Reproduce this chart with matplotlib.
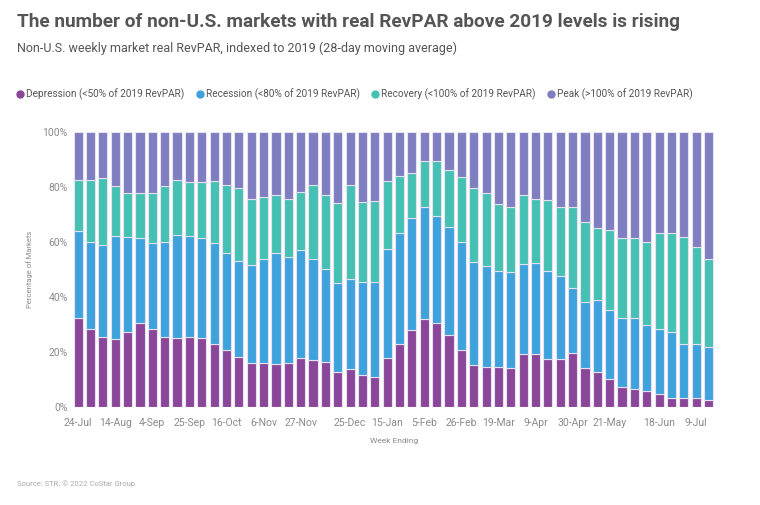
import numpy as np
import matplotlib
matplotlib.use("Agg")
import matplotlib.pyplot as plt
from matplotlib.lines import Line2D

# weekly data, 24-Jul-2021 .. 16-Jul-2022 (52 weeks), shares in %
depression = [32.4, 28.2, 25.5, 24.9, 27.3, 30.5, 28.2, 25.5, 25.1, 25.5,
              25.1, 22.9, 20.6, 18.3, 15.9, 15.9, 15.7, 16.1, 17.9, 17.1,
              16.4, 12.9, 13.8, 11.8, 10.9, 18.0, 22.8, 28.0, 31.9, 30.6,
              26.3, 20.6, 15.3, 14.7, 14.7, 14.1, 19.1, 19.3, 17.6, 17.6,
              19.7, 14.2, 12.6, 10.3, 7.2, 6.6, 5.7, 4.7, 3.4, 3.4,
              3.4, 2.5]
# cumulative top of recession band
recession_top = [64.0, 60.1, 59.0, 62.3, 61.7, 61.3, 59.6, 60.0, 62.5, 62.3,
                 61.4, 59.6, 56.1, 53.2, 51.7, 53.8, 56.1, 54.7, 57.2, 53.8,
                 50.1, 45.0, 46.5, 45.4, 45.6, 57.5, 63.2, 68.9, 72.7, 69.5,
                 65.5, 60.0, 52.8, 51.2, 49.4, 49.0, 52.1, 52.3, 49.4, 47.7,
                 43.3, 38.2, 38.8, 35.1, 32.2, 32.2, 30.0, 28.2, 27.3, 22.8,
                 22.8, 21.7]
# cumulative top of recovery band
recovery_top = [82.6, 82.6, 83.3, 80.3, 78.0, 77.7, 78.0, 80.3, 82.4, 81.9,
                82.0, 82.3, 80.8, 79.5, 75.6, 76.2, 77.1, 75.6, 78.2, 80.8,
                77.1, 74.3, 80.6, 74.5, 75.0, 82.2, 83.9, 85.1, 89.3, 89.6,
                86.2, 83.5, 79.7, 77.8, 73.7, 72.6, 77.1, 75.7, 75.4, 72.9,
                72.7, 67.2, 65.2, 64.3, 61.5, 61.3, 60.0, 63.1, 63.2, 61.9,
                58.1, 53.9]

tick_pos = [0, 3, 6, 9, 12, 15, 18, 22, 25, 28, 31, 34, 37, 40, 43, 47, 50]
tick_labels = ["24-Jul", "14-Aug", "4-Sep", "25-Sep", "16-Oct", "6-Nov", "27-Nov",
               "25-Dec", "15-Jan", "5-Feb", "26-Feb", "19-Mar", "9-Apr", "30-Apr",
               "21-May", "18-Jun", "9-Jul"]

labels = ["Depression (<50% of 2019 RevPAR)", "Recession (<80% of 2019 RevPAR)",
          "Recovery (<100% of 2019 RevPAR)", "Peak (>100% of 2019 RevPAR)"]
colors = ["#8a4799", "#3ea3dc", "#45c1b4", "#7f7ec0"]

dep = np.array(depression)
rec = np.array(recession_top) - dep
recov = np.array(recovery_top) - np.array(recession_top)
peak = 100 - np.array(recovery_top)
x = np.arange(len(dep))

plt.rcParams["font.family"] = ["Roboto", "DejaVu Sans"]

fig = plt.figure(figsize=(7.6, 5.05), dpi=100)
ax = fig.add_axes([72 / 760, 1 - 407 / 505, (716 - 72) / 760, (407 - 132) / 505])

bottom = np.zeros(len(x))
for vals, c in zip([dep, rec, recov, peak], colors):
    ax.bar(x, vals, bottom=bottom, width=0.74, color=c,
           edgecolor="#e6e0f0", linewidth=0.8)
    bottom += vals

ax.set_xlim(-0.5, 51.6)
ax.set_ylim(0, 100)
ax.set_yticks([0, 20, 40, 60, 80, 100])
ax.set_yticklabels([f"{v}%" for v in range(0, 101, 20)])
ax.set_xticks(tick_pos)
ax.set_xticklabels(tick_labels)
ax.tick_params(axis="both", length=0, labelsize=7.5, labelcolor="#8a8a8a")
ax.tick_params(axis="x", pad=8)
ax.tick_params(axis="y", pad=3)
for s in ax.spines.values():
    s.set_visible(False)

ax.set_ylabel("Percentage of Markets", fontsize=5.5, color="#8a8a8a", labelpad=7)
ax.set_xlabel("Week Ending", fontsize=6, color="#8a8a8a", labelpad=7)

fig.text(17 / 760, 1 - 22 / 505, "The number of non-U.S. markets with real RevPAR above 2019 levels is rising",
         fontsize=13.7, fontweight="bold", color="#555555", va="center", ha="left")
fig.text(17 / 760, 1 - 48 / 505, "Non-U.S. weekly market real RevPAR, indexed to 2019 (28-day moving average)",
         fontsize=9.0, color="#555555", va="center", ha="left")

handles = [Line2D([0], [0], marker="o", linestyle="", markersize=5,
                  markerfacecolor=c, markeredgecolor=c) for c in colors]
fig.legend(handles, labels, loc="center left", bbox_to_anchor=(6 / 760, 1 - 94 / 505),
           ncol=4, frameon=False, fontsize=7.2, labelcolor="#555555",
           handletextpad=0.1, columnspacing=1.05, handlelength=1.0)

fig.text(17 / 760, 1 - 484 / 505, "Source: STR. \u00a9 2022 CoStar Group",
         fontsize=5.5, color="#aaaaaa", va="center", ha="left")

fig.savefig("out.png", dpi=100)
